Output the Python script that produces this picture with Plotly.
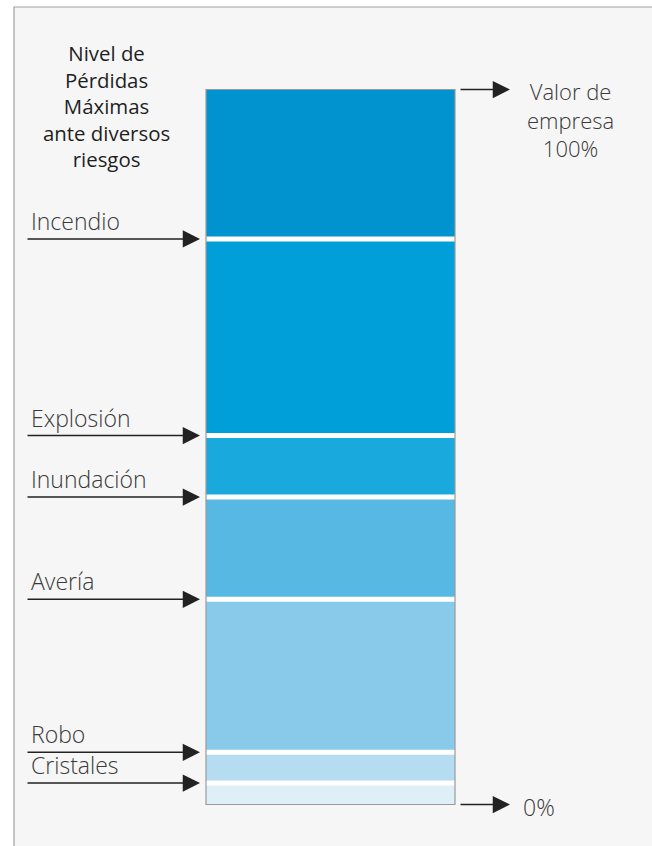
import plotly.graph_objects as go

# ---- data ----
risks = ["Cristales", "Robo", "Avería", "Inundación", "Explosión", "Incendio"]
levels = [3.0, 7.3, 28.7, 43.0, 51.6, 79.1]          # % of company value (max loss level)
total_value = 100.0
title_lines = ["Nivel de", "Pérdidas", "Máximas", "ante diversos", "riesgos"]
top_label_lines = ["Valor de", "empresa", "100%"]
bottom_label = "0%"

# ---- styles ----
seg_colors = ["#dfeff8", "#b5dcf1", "#89caeb", "#57b8e3", "#1aa9dd", "#009fd9", "#0093cf"]
W, H = 652, 846
bar_center, bar_width = 330.5, 249
px_per_unit = 7.15
top_px = 89.5
ymax = total_value + top_px / px_per_unit
ymin = -(H - (top_px + total_value * px_per_unit)) / px_per_unit

bounds = [0.0] + levels + [total_value]
fig = go.Figure()
for i in range(len(bounds) - 1):
    fig.add_trace(go.Bar(
        x=[bar_center], y=[bounds[i + 1] - bounds[i]], base=[bounds[i]],
        width=bar_width, marker=dict(color=seg_colors[i], line=dict(width=0)),
        hoverinfo="skip", showlegend=False))

shapes = []
# frame
shapes.append(dict(type="rect", xref="x", yref="paper", x0=14, x1=W + 10, y0=-0.1, y1=1 - 7 / H,
                   fillcolor="#f6f6f6", line=dict(color="#a0a0a0", width=1.2), layer="below"))
# white separators
x0b, x1b = bar_center - bar_width / 2, bar_center + bar_width / 2
for lv in levels:
    shapes.append(dict(type="line", xref="x", yref="y", x0=x0b, x1=x1b, y0=lv, y1=lv,
                       line=dict(color="white", width=5), layer="above"))
# bar outline
shapes.append(dict(type="rect", xref="x", yref="y", x0=x0b, x1=x1b, y0=0, y1=total_value,
                   line=dict(color="#9a9a9a", width=1.2), layer="above"))

ann = []
label_font = dict(family="Open Sans", size=23, color="#3a3a3a", weight=300)
arrow_kw = dict(showarrow=True, arrowhead=2, arrowsize=2.3, arrowwidth=1.5, arrowcolor="#222222",
                axref="x", ayref="y", xref="x", yref="y", text="", standoff=0, startstandoff=0)
for name, lv in zip(risks, levels):
    ann.append(dict(x=200, y=lv, ax=26, ay=lv, **arrow_kw))
    ann.append(dict(x=29, y=lv, xref="x", yref="y", text=name, showarrow=False,
                    xanchor="left", yanchor="bottom", yshift=0, font=label_font))
# right side arrows
ann.append(dict(x=510, y=total_value, ax=459, ay=total_value, **arrow_kw))
ann.append(dict(x=510, y=0, ax=459, ay=0, **arrow_kw))

# title (single block, line spacing 1.3em)
ann.append(dict(x=106.5, y=1 - 106.5 / H, xref="x", yref="paper", text="<br>".join(title_lines),
                showarrow=False, xanchor="center", yanchor="middle", align="center",
                font=dict(family="Open Sans", size=20.4, color="#1e1e1e")))
ann.append(dict(x=570, y=1 - 120 / H, xref="x", yref="paper", text="<br>".join(top_label_lines),
                showarrow=False, xanchor="center", yanchor="middle", align="center",
                font=dict(label_font, size=22)))
ann.append(dict(x=521, y=0, xref="x", yref="y", text=bottom_label, showarrow=False,
                xanchor="left", yanchor="middle", yshift=-2, font=dict(label_font, size=23)))

fig.update_layout(
    width=W, height=H, margin=dict(l=0, r=0, t=0, b=0),
    paper_bgcolor="white", plot_bgcolor="rgba(0,0,0,0)",
    barmode="overlay", bargap=0,
    xaxis=dict(range=[0, W], visible=False, fixedrange=True),
    yaxis=dict(range=[ymin, ymax], visible=False, fixedrange=True),
    shapes=shapes, annotations=ann, showlegend=False,
)
fig.write_html("out.html", config={"displayModeBar": False},
               post_script="document.body.style.margin='0';document.body.style.overflow='hidden';")
